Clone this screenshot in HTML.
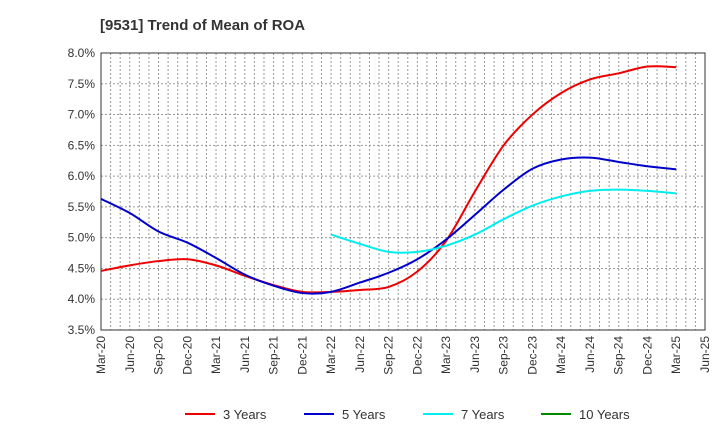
<!DOCTYPE html>
<html><head><meta charset="utf-8"><style>
body{margin:0;background:#fff;font-family:"Liberation Sans",sans-serif}
</style></head><body>
<svg id="c" width="720" height="440" xmlns="http://www.w3.org/2000/svg">
<text x="100" y="30" font-size="15" font-weight="bold" fill="#333">[9531]  Trend of Mean of ROA</text>
<g id="grid"></g><g id="axes"></g><g id="series"></g><g id="legend"></g>
</svg>
<script>
const categories=["Mar-20","Jun-20","Sep-20","Dec-20","Mar-21","Jun-21","Sep-21","Dec-21","Mar-22","Jun-22","Sep-22","Dec-22","Mar-23","Jun-23","Sep-23","Dec-23","Mar-24","Jun-24","Sep-24","Dec-24","Mar-25","Jun-25"];
const yTicks=[3.5,4.0,4.5,5.0,5.5,6.0,6.5,7.0,7.5,8.0];
const s3=[4.46,4.55,4.62,4.65,4.55,4.38,4.23,4.12,4.12,4.15,4.2,4.45,4.95,5.75,6.5,7.0,7.35,7.57,7.67,7.78,7.77];
const s5=[5.63,5.4,5.1,4.92,4.67,4.4,4.22,4.1,4.12,4.27,4.43,4.65,4.97,5.37,5.78,6.12,6.27,6.3,6.23,6.16,6.11];
const s7=[null,null,null,null,null,null,null,null,5.05,4.9,4.77,4.77,4.87,5.05,5.3,5.52,5.67,5.76,5.78,5.76,5.72];
const s10=[];
const seriesNames=["3 Years","5 Years","7 Years","10 Years"];
const L=101,R=705,T=53,B=330;
const x=i=>L+(R-L)*i/21;
const y=v=>B-(v-3.5)/4.5*(B-T);
const NS="http://www.w3.org/2000/svg";
function mk(t,a,p){const e=document.createElementNS(NS,t);for(const k in a)e.setAttribute(k,a[k]);p.appendChild(e);return e;}
const grid=document.getElementById('grid'),axes=document.getElementById('axes'),ser=document.getElementById('series'),leg=document.getElementById('legend');
for(let m=1;m<63;m++){const xx=L+(R-L)*m/63;const l=mk('line',{x1:xx,x2:xx,y1:T,y2:B,stroke:'#999','stroke-dasharray':'2,2','stroke-width':1},grid);

}
yTicks.forEach(v=>{const l=mk('line',{x1:L,x2:R,y1:y(v),y2:y(v),stroke:'#999','stroke-dasharray':'2,2'},grid);


const t=mk('text',{x:L-6,y:y(v)+4,'text-anchor':'end','font-size':12,fill:'#333'},axes);t.textContent=v.toFixed(1)+'%';

});
const fr=mk('rect',{x:L,y:T,width:R-L,height:B-T,fill:'none',stroke:'#333'},axes);


categories.forEach((c,i)=>{const t=mk('text',{transform:`translate(${x(i)+4},${B+6}) rotate(-90)`,'text-anchor':'end','font-size':12,fill:'#333'},axes);t.textContent=c;

});
function path(d){const p=[];d.forEach((v,i)=>{if(v!=null)p.push([x(i),y(v)]);});if(p.length<2)return '';
let s=`M${p[0][0]},${p[0][1]}`;for(let i=0;i<p.length-1;i++){const p0=p[i-1]||p[i],p1=p[i],p2=p[i+1],p3=p[i+2]||p2;
s+=` C${p1[0]+(p2[0]-p0[0])/6},${p1[1]+(p2[1]-p0[1])/6} ${p2[0]-(p3[0]-p1[0])/6},${p2[1]-(p3[1]-p1[1])/6} ${p2[0]},${p2[1]}`;}return s;}
const data=[s3,s5,s7,s10],cols=['#e00','#00c','#0ee','#080'];
data.forEach((d,k)=>{const dd=path(d);if(dd){const p=mk('path',{d:dd,fill:'none',stroke:cols[k],'stroke-width':2},ser);

}
const lx=[185,304,423,541][k];
const g=mk('g',{},leg);


mk('line',{x1:lx,x2:lx+30,y1:414,y2:414,stroke:cols[k],'stroke-width':2},g);
const t=mk('text',{x:lx+38,y:419,'font-size':13,fill:'#333'},g);t.textContent=seriesNames[k];});
</script>
</body></html>
